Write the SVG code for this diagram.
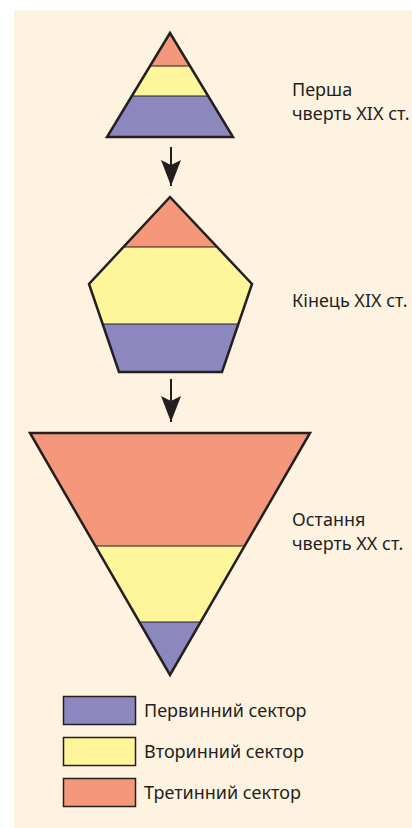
<svg xmlns="http://www.w3.org/2000/svg" width="412" height="828" viewBox="0 0 412 828">
<defs>
<style>
.t{font-family:"Noto Sans","Open Sans",sans-serif;font-size:18px;fill:#231F20}
.r{fill:#F5977A}.y{fill:#FFF59B}.b{fill:#8C88BF}
.o{fill:none;stroke:#231F20;stroke-width:2.5;stroke-linejoin:miter}
.d{stroke:#231F20;stroke-width:1}
.lg{stroke:#231F20;stroke-width:1.5}
.ar{stroke:#231F20;stroke-width:2}
</style>
<clipPath id="c1"><polygon points="170,33 233,137 107,137"/></clipPath>
<clipPath id="c2"><polygon points="170,197 252,284 222,372 119,372 89,284"/></clipPath>
<clipPath id="c3"><polygon points="30,433 310,433 170,675"/></clipPath>
<marker id="ah" viewBox="0 0 26 20" refX="26" refY="10" markerWidth="26" markerHeight="20" markerUnits="userSpaceOnUse" orient="auto">
<path d="M0,0 L5,10 L0,20 L26,10 Z" fill="#231F20"/>
</marker>
</defs>
<rect x="14" y="10" width="398" height="818" fill="#FEF3E0"/>
<g id="node-top">
<g clip-path="url(#c1)">
<rect class="r" x="100" y="30" width="140" height="36"/>
<rect class="y" x="100" y="66" width="140" height="30"/>
<rect class="b" x="100" y="96" width="140" height="45"/>
<line class="d" x1="100" y1="66" x2="240" y2="66"/>
<line class="d" x1="100" y1="96" x2="240" y2="96"/>
</g>
<polygon class="o" points="170,33 233,137 107,137"/>
<text class="t" x="292" y="96">Перша</text>
<text class="t" x="292" y="120">чверть XIX ст.</text>
</g>
<g id="node-mid">
<g clip-path="url(#c2)">
<rect class="r" x="85" y="195" width="170" height="52"/>
<rect class="y" x="85" y="247" width="170" height="77"/>
<rect class="b" x="85" y="324" width="170" height="52"/>
<line class="d" x1="85" y1="247" x2="255" y2="247"/>
<line class="d" x1="85" y1="324" x2="255" y2="324"/>
</g>
<polygon class="o" points="170,197 252,284 222,372 119,372 89,284"/>
<text class="t" x="292" y="307">Кінець XIX ст.</text>
</g>
<g id="node-bot">
<g clip-path="url(#c3)">
<rect class="r" x="25" y="430" width="290" height="116"/>
<rect class="y" x="25" y="546" width="290" height="76"/>
<rect class="b" x="25" y="622" width="290" height="56"/>
<line class="d" x1="25" y1="546" x2="315" y2="546"/>
<line class="d" x1="25" y1="622" x2="315" y2="622"/>
</g>
<polygon class="o" points="30,433 310,433 170,675"/>
<text class="t" x="292" y="526">Остання</text>
<text class="t" x="292" y="550">чверть XX ст.</text>
</g>
<g id="connectors">
<line class="ar" x1="171" y1="147" x2="171" y2="186" marker-end="url(#ah)"/>
<line class="ar" x1="171" y1="379" x2="171" y2="422" marker-end="url(#ah)"/>
</g>
<g id="legend">
<rect class="b lg" x="63.5" y="696.5" width="72" height="28"/>
<rect class="y lg" x="63.5" y="737.5" width="72" height="28"/>
<rect class="r lg" x="63.5" y="778.5" width="72" height="28"/>
<text class="t" x="144" y="717">Первинний сектор</text>
<text class="t" x="144" y="758">Вторинний сектор</text>
<text class="t" x="144" y="799">Третинний сектор</text>
</g>
</svg>
